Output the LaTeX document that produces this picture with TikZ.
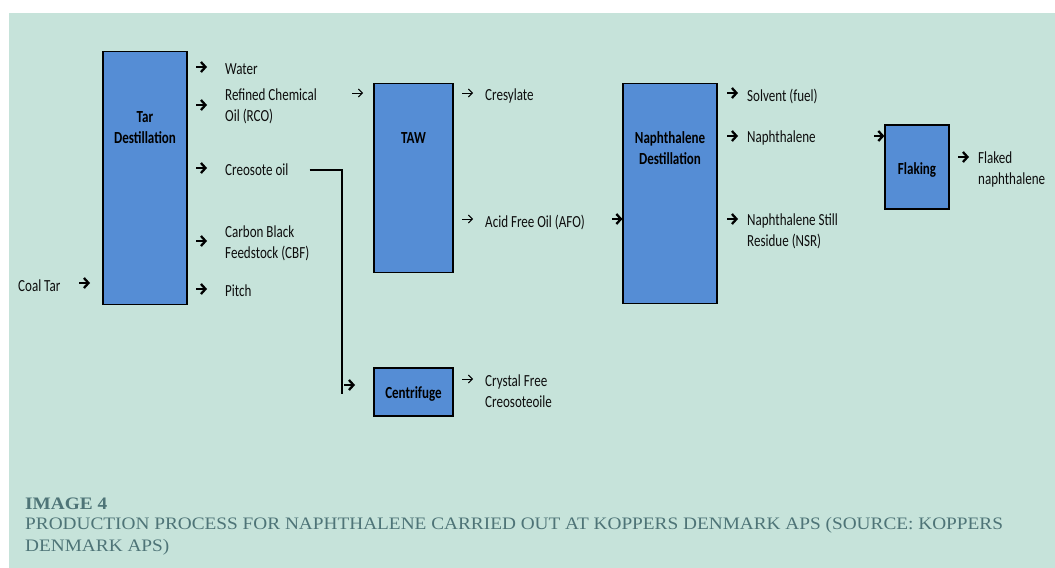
\documentclass[tikz,border=0pt]{standalone}
\usepackage{fontspec}
\usetikzlibrary{arrows.meta}
\newfontfamily\diagfont{Carlito}[FakeStretch=0.77]
\newfontfamily\capfont{Liberation Serif}[FakeStretch=1.1]
\definecolor{bg}{HTML}{C6E3DA}
\definecolor{boxblue}{HTML}{558DD5}
\definecolor{captext}{HTML}{4E7477}
\begin{document}
\begin{tikzpicture}[x=1bp,y=-1bp,
 procbox/.style={draw=black, line width=1.5bp, fill=boxblue, inner sep=0},
 proclbl/.style={inner sep=0, align=center, text=black, font=\diagfont\bfseries\fontsize{17}{21}\selectfont},
 lbl/.style={anchor=west, inner sep=0, align=left, text=black!95, font=\diagfont\fontsize{17}{21}\selectfont},
 barrow/.style={line width=2.3bp, -{Straight Barb[length=4.5bp,width=10bp]}},
 tarrow/.style={line width=0.9bp, -{Straight Barb[length=4bp,width=8bp]}},
 capstyle/.style={anchor=base west, inner sep=0, text=captext, font=\capfont\fontsize{17.6}{22}\selectfont},
]
\fill[white] (0,0) rectangle (1055,568);
\path[use as bounding box] (0,0) rectangle (1055,568);
\fill[bg] (9,13) rectangle (1055,568);

% process boxes
\node[procbox, minimum width=84, minimum height=254] (tar) at (145,178) {};
\node[procbox, minimum width=79, minimum height=190] (taw) at (413.5,178) {};
\node[procbox, minimum width=94, minimum height=221] (nd) at (670,193.5) {};
\node[procbox, minimum width=64, minimum height=84] (flak) at (917,167) {};
\node[procbox, minimum width=79, minimum height=48] (cent) at (413.5,392) {};

\node[proclbl] (tarl) at (145,127.5) {Tar\\Destillation};
\node[proclbl] (tawl) at (413.5,138) {TAW};
\node[proclbl] (ndl) at (670,148.5) {Naphthalene\\Destillation};
\node[proclbl] (flakl) at (917,170) {Flaking};
\node[proclbl] (centl) at (413.5,394) {Centrifuge};

% labels
\node[lbl] (coal) at (18,286) {Coal Tar};
\node[lbl] (water) at (225,69) {Water};
\node[lbl] (rco) at (225,106.5) {Refined Chemical\\Oil (RCO)};
\node[lbl] (creo) at (225,170) {Creosote oil};
\node[lbl] (cbf) at (225,243.5) {Carbon Black\\Feedstock (CBF)};
\node[lbl] (pitch) at (225,291) {Pitch};
\node[lbl] (cres) at (485,96) {Cresylate};
\node[lbl] (afo) at (485,222) {Acid Free Oil (AFO)};
\node[lbl] (solv) at (747,96) {Solvent (fuel)};
\node[lbl] (naph) at (747,138) {Naphthalene};
\node[lbl] (nsr) at (747,231.5) {Naphthalene Still\\Residue (NSR)};
\node[lbl] (flaked) at (978,169.5) {Flaked\\naphthalene};
\node[lbl] (cfc) at (485,391.5) {Crystal Free\\Creosoteoile};

% arrows
\draw[barrow] (79,283) -- (90,283);
\draw[barrow] (196,67) -- (207,67);
\draw[barrow] (196,105) -- (207,105);
\draw[barrow] (196,168) -- (207,168);
\draw[barrow] (196,241) -- (207,241);
\draw[barrow] (196,289) -- (207,289);
\draw[tarrow] (352,93) -- (363,93);
\draw[tarrow] (462,93) -- (473,93);
\draw[tarrow] (462,219) -- (473,219);
\draw[tarrow] (462,379) -- (473,379);
\draw[barrow] (612,219) -- (nd.west |- 0,219);
\draw[barrow] (727,93) -- (738,93);
\draw[barrow] (727,136) -- (738,136);
\draw[barrow] (727,219) -- (738,219);
\draw[barrow] (874,136) -- (flak.west |- 0,136);
\draw[barrow] (958,157) -- (969,157);
\draw[barrow] (344,385) -- (355,385);

% creosote connector
\coordinate (creoend) at (342,394);
\draw[line width=1.2bp] ([xshift=21]creo.east) -| (creoend);

% caption
\node[capstyle, font=\capfont\bfseries\fontsize{17.6}{22}\selectfont] (imgno) at (25,509) {IMAGE 4};
\node[capstyle] (cap1) at (25,529) {PRODUCTION PROCESS FOR NAPHTHALENE CARRIED OUT AT KOPPERS DENMARK APS (SOURCE: KOPPERS};
\node[capstyle] (cap2) at (25,551) {DENMARK APS)};
\end{tikzpicture}
\end{document}
